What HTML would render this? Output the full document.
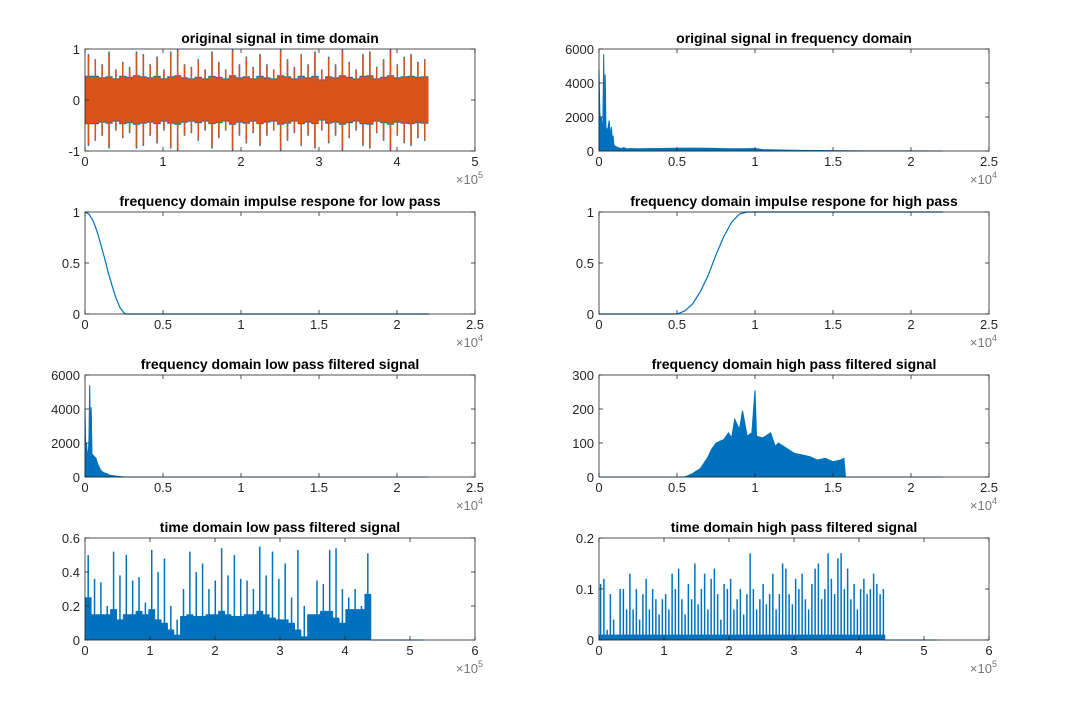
<!DOCTYPE html>
<html><head><meta charset="utf-8"><style>
body{margin:0;background:#fff;}
svg{display:block;font-family:"Liberation Sans",sans-serif;}
</style></head><body>
<svg id="fig" width="1083" height="718" viewBox="0 0 1083 718"></svg>
<script>
// ---- data ----
const origPeaks=[0.9,0.8,0.7,0.95,0.6,0.75,0.65,0.95,0.9,0.7,0.85,0.6,0.95,1,0.7,0.65,0.8,0.6,0.95,0.75,0.6,1,0.7,0.85,0.65,0.9,0.7,0.6,1,0.8,0.65,0.9,0.7,0.95,0.6,0.85,0.7,1,0.75,0.6,0.9,0.95,0.65,0.8,1,0.7,0.85,0.9,0.75,0.8];
const origCore=[0.45,0.45,0.42,0.44,0.4,0.45,0.43,0.46,0.44,0.42,0.45,0.4,0.44,0.46,0.42,0.4,0.43,0.4,0.45,0.43,0.4,0.46,0.42,0.44,0.4,0.45,0.42,0.4,0.46,0.44,0.4,0.45,0.42,0.45,0.38,0.44,0.42,0.46,0.43,0.4,0.45,0.46,0.4,0.43,0.46,0.42,0.44,0.45,0.43,0.44];
const specF=[0,50,100,150,200,250,300,350,400,450,500,550,600,650,700,750,800,850,900,950,1000,1100,1200,1400,1600,1800,2000,2500,3000,4000,5000,6000,7000,8000,9000,10000,10500,11000,12000,13000,14000,15000,17000,20000,22050];
const specV=[4800,2400,1500,2000,1200,1800,5700,2500,4500,1000,1300,1200,1500,1800,1300,800,1400,600,900,400,300,250,200,150,200,120,150,130,140,150,160,170,160,140,130,150,80,70,50,40,30,20,10,5,0];
const lpF=[0,250,500,750,1000,1250,1500,1750,2000,2250,2500,2650,22050];
const lpV=[1,0.98,0.92,0.82,0.69,0.55,0.4,0.27,0.15,0.06,0.01,0,0];
const hpF=[0,5000,5500,6000,6500,7000,7500,8000,8500,9000,9500,22050];
const hpV=[0,0,0.03,0.1,0.22,0.38,0.58,0.76,0.9,0.98,1,1];
const lpsF=[0,50,100,150,200,250,300,350,400,450,500,600,700,800,900,1000,1200,1400,1600,2000,2500,22050];
const lpsV=[4000,1300,2000,1200,1400,2000,5400,2500,4100,1200,1300,1200,1100,800,600,400,250,200,100,50,0,0];
const hpsF=[0,5400,5600,6000,6500,7000,7200,7500,8000,8300,8500,8700,9000,9200,9500,9800,10000,10100,10500,11000,11300,11500,12000,12500,13000,13500,14000,14500,15000,15500,15700,15800,22050];
const hpsV=[0,0,2,10,25,60,80,100,110,130,115,170,140,195,120,130,255,120,115,130,90,100,85,70,65,60,50,55,45,50,55,0,0];
const lowTPeaks=[0.5,0.36,0.34,0.2,0.52,0.38,0.5,0.35,0.37,0.22,0.53,0.4,0.48,0.2,0.12,0.3,0.52,0.4,0.45,0.3,0.35,0.54,0.38,0.5,0.36,0.35,0.3,0.55,0.38,0.52,0.36,0.45,0.25,0.53,0.2,0.08,0.35,0.33,0.53,0.54,0.3,0.25,0.3,0.2,0.51];
const lowTBase=[0.25,0.15,0.15,0.15,0.18,0.12,0.15,0.15,0.17,0.15,0.18,0.12,0.1,0.06,0.03,0.14,0.15,0.14,0.14,0.15,0.15,0.17,0.15,0.14,0.14,0.15,0.15,0.17,0.15,0.13,0.12,0.12,0.1,0.06,0.02,0.15,0.15,0.17,0.17,0.13,0.1,0.18,0.18,0.18,0.27];
const highTPeaks=[0.11,0.12,0.02,0.09,0.04,0.01,0.1,0.1,0.06,0.13,0.06,0.1,0.04,0.09,0.12,0.06,0.1,0.08,0.05,0.08,0.09,0.06,0.13,0.1,0.14,0.08,0.05,0.11,0.08,0.15,0.07,0.1,0.13,0.06,0.12,0.14,0.09,0.04,0.11,0.1,0.12,0.06,0.08,0.1,0.05,0.09,0.17,0.1,0.06,0.08,0.11,0.07,0.09,0.13,0.06,0.09,0.15,0.14,0.09,0.07,0.12,0.1,0.13,0.08,0.06,0.11,0.14,0.15,0.08,0.1,0.17,0.12,0.09,0.16,0.17,0.1,0.14,0.08,0.11,0.06,0.1,0.12,0.09,0.1,0.13,0.11,0.09,0.1];

const xT5=["0","1","2","3","4","5"], xT25=["0","0.5","1","1.5","2","2.5"], xT6=["0","1","2","3","4","5","6"];
const BLUE="#0072BD", ORANGE="#D95319", AX="#262626";
const svg=document.getElementById('fig');
const NS="http://www.w3.org/2000/svg";
function mk(tag,attrs,parent){const e=document.createElementNS(NS,tag);for(const k in attrs)e.setAttribute(k,attrs[k]);(parent||svg).appendChild(e);return e;}

const cols=[[85,475],[599,989]], tops=[49,212,375,538], H=102;
function panel(name,col,row,xmax,ymin,ymax,xticks,xscaleMul,yticks,exp,title){
  const g=mk('g',{});
  
  
  const [x0,x1]=cols[col], y0=tops[row], y1=y0+H;
  const p={g,x0,x1,y0,y1,X:v=>x0+(v/xmax)*(x1-x0),Y:v=>y1-(v-ymin)/(ymax-ymin)*H};
  p.axisG=mk('g',{},g);
  const t=mk('text',{x:(x0+x1)/2,y:y0-6,'text-anchor':'middle','font-size':14,'font-weight':'bold',fill:'#000'},p.axisG);
  t.textContent=title;
  
  
  p.finish=function(){
    const a=mk('g',{},g);
    mk('rect',{x:x0,y:y0,width:x1-x0,height:H,fill:'none',stroke:AX,'stroke-width':0.8},a);
    xticks.forEach((lab,i)=>{const x=p.X(i*xscaleMul);
      mk('line',{x1:x,x2:x,y1:y1,y2:y1-4,stroke:AX,'stroke-width':0.8},a);
      mk('line',{x1:x,x2:x,y1:y0,y2:y0+4,stroke:AX,'stroke-width':0.8},a);
      const tx=mk('text',{x:x,y:y1+15,'text-anchor':'middle','font-size':13,fill:AX},a);tx.textContent=lab;
      
      });
    yticks.forEach(v=>{const y=p.Y(v);
      mk('line',{x1:x0,x2:x0+4,y1:y,y2:y,stroke:AX,'stroke-width':0.8},a);
      mk('line',{x1:x1,x2:x1-4,y1:y,y2:y,stroke:AX,'stroke-width':0.8},a);
      const ty=mk('text',{x:x0-5,y:y+5,'text-anchor':'end','font-size':13,fill:AX},a);ty.textContent=String(v);
      
      });
    if(exp){const te=mk('text',{x:x1+8,y:y1+33,'text-anchor':'end','font-size':13,fill:'#777'},a);
      te.innerHTML='×10<tspan dy="-6" font-size="9">'+exp+'</tspan>';
      
      }
  };
  return p;
}
function area(p,xs,ys,color){
  let d='M'+p.X(xs[0])+','+p.Y(0);
  xs.forEach((x,i)=>{d+=' L'+p.X(x)+','+p.Y(ys[i]);});
  d+=' L'+p.X(xs[xs.length-1])+','+p.Y(0)+' Z';
  const e=mk('path',{d,fill:color,stroke:color,'stroke-width':1},p.g);
  
  
}
function line(p,xs,ys,color){
  const d=xs.map((x,i)=>(i?'L':'M')+p.X(x)+','+p.Y(ys[i])).join(' ');
  const e=mk('path',{d,fill:'none',stroke:color,'stroke-width':1.2},p.g);
  
  
}
function spikes(p,vals,step,lo,color,w){
  vals.forEach((v,i)=>{const x=p.X((i+0.5)*step);
    const e=mk('line',{x1:x,x2:x,y1:p.Y(lo?-v:0),y2:p.Y(v),stroke:color,'stroke-width':w},p.g);
    
    });
}
function band(p,vals,step,sym,color){
  let top='',bot=[];
  vals.forEach((v,i)=>{const xa=p.X(i*step),xb=p.X((i+1)*step);
    top+=(i?' L':'M')+xa+','+p.Y(v)+' L'+xb+','+p.Y(v);
    bot.unshift(xb+','+p.Y(sym?-v:0),xa+','+p.Y(sym?-v:0));});
  const e=mk('path',{d:top+' L'+bot.join(' L')+' Z',fill:color,stroke:color,'stroke-width':0.5},p.g);
  
  
}

// panel 1
let p=panel('time-domain-original',0,0,5e5,-1,1,xT5,1e5,[-1,0,1],'5','original signal in time domain');
const st1=4.4e5/origPeaks.length;
band(p,origCore.map(v=>v+0.02),st1,true,BLUE);
spikes(p,origPeaks,st1,true,BLUE,1.5);
band(p,origCore,st1,true,ORANGE);
spikes(p,origPeaks.map(v=>v*0.97),st1,true,ORANGE,1.5);
p.finish();
// panel 2
p=panel('frequency-domain-original',1,0,2.5e4,0,6000,xT25,5e3,[0,2000,4000,6000],'4','original signal in frequency domain');
area(p,specF,specV,BLUE);p.finish();
// panel 3
p=panel('lowpass-impulse-response',0,1,2.5e4,0,1,xT25,5e3,[0,0.5,1],'4','frequency domain impulse respone for low pass');
line(p,lpF,lpV,BLUE);p.finish();
// panel 4
p=panel('highpass-impulse-response',1,1,2.5e4,0,1,xT25,5e3,[0,0.5,1],'4','frequency domain impulse respone for high pass');
line(p,hpF,hpV,BLUE);p.finish();
// panel 5
p=panel('frequency-lowpass-filtered',0,2,2.5e4,0,6000,xT25,5e3,[0,2000,4000,6000],'4','frequency domain low pass filtered signal');
area(p,lpsF,lpsV,BLUE);p.finish();
// panel 6
p=panel('frequency-highpass-filtered',1,2,2.5e4,0,300,xT25,5e3,[0,100,200,300],'4','frequency domain high pass filtered signal');
area(p,hpsF,hpsV,BLUE);p.finish();
// panel 7
p=panel('time-lowpass-filtered',0,3,6e5,0,0.6,xT6,1e5,[0,0.2,0.4,0.6],'5','time domain low pass filtered signal');
const st7=4.4e5/lowTBase.length;
band(p,lowTBase,st7,false,BLUE);spikes(p,lowTPeaks,st7,false,BLUE,1.5);
line(p,[4.4e5,5.2e5],[0,0],'#4DA3E0');p.finish();
// panel 8
p=panel('time-highpass-filtered',1,3,6e5,0,0.2,xT6,1e5,[0,0.1,0.2],'5','time domain high pass filtered signal');
const st8=4.4e5/highTPeaks.length;
band(p,highTPeaks.map(()=>0.01),st8,false,BLUE);spikes(p,highTPeaks,st8,false,BLUE,1.5);
line(p,[4.4e5,5.2e5],[0,0],'#4DA3E0');p.finish();
</script>
</body></html>
